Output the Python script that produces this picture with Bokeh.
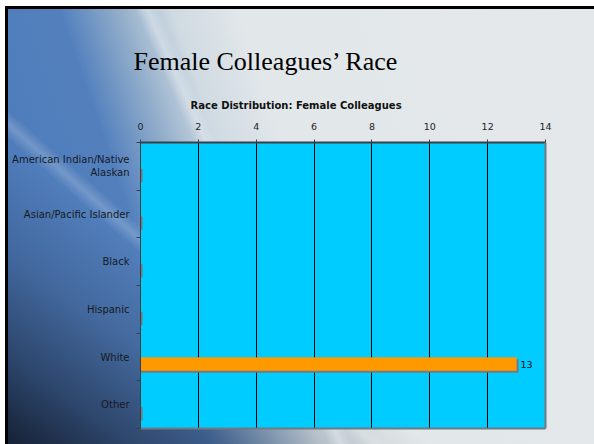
from bokeh.plotting import figure
from bokeh.models import Range1d, FixedTicker, LinearAxis, ColumnDataSource, Title
from bokeh.transform import dodge
from bokeh.embed import file_html
from bokeh.resources import INLINE
from bokeh.core.properties import value

# ---- data ----
slide_title = "Female Colleagues\u2019 Race"
chart_title = "Race Distribution: Female Colleagues"
categories = ["American Indian/Native\nAlaskan", "Asian/Pacific Islander", "Black",
              "Hispanic", "White", "Other"]
counts = [0, 0, 0, 0, 13, 0]
x_ticks = [0, 2, 4, 6, 8, 10, 12, 14]
x_max = 14

n = len(categories)
ypos = [n - 0.5 - i for i in range(n)]          # top category first
boundaries = list(range(n + 1))

bar_off = -0.147
bar_h = 0.28

src = ColumnDataSource(dict(y=ypos, count=counts, cat=categories))
nz = [i for i, c in enumerate(counts) if c > 0]
lab_src = ColumnDataSource(dict(y=[ypos[i] for i in nz], count=[counts[i] for i in nz],
                                label=[str(counts[i]) for i in nz]))

p = figure(frame_width=405, frame_height=286,
           min_border_left=140, min_border_right=49, min_border_top=142, min_border_bottom=16,
           x_range=Range1d(0, x_max), y_range=Range1d(0, n),
           x_axis_location="above", output_backend="svg", toolbar_location=None)
p.title.visible = False

p.background_fill_color = "#00CCFF"
p.border_fill_color = None
p.outline_line_color = None
p.styles = {
    "background": (
        "linear-gradient(66deg, rgba(255,255,255,0) 41.5%, rgba(255,255,255,0.33) 43%, rgba(255,255,255,0) 44.5%), "
        "linear-gradient(41deg, rgba(255,255,255,0) 32.5%, rgba(255,255,255,0.2) 34%, rgba(255,255,255,0) 35.5%), "
        "linear-gradient(35deg, rgba(14,19,32,0.88) 0%, rgba(14,19,32,0.5) 11%, rgba(14,19,32,0.18) 23%, rgba(14,19,32,0) 35%), "
        "linear-gradient(71deg, #4a78b8 0%, #5380bd 28%, #93aecb 36%, #cfdae2 43%, #e2e7ea 52%, #e4e8ea 100%)"
    ),
    "box-shadow": "inset 5px 6px 0 0 #ffffff, inset 8px 9px 0 0 #000000",
}

# grid
p.xgrid.ticker = FixedTicker(ticks=x_ticks)
p.xgrid.grid_line_color = "black"
p.xgrid.grid_line_width = 1
p.ygrid.visible = False

# top axis
xa = p.xaxis[0]
xa.ticker = FixedTicker(ticks=x_ticks)
xa.axis_line_color = "#3a3f44"
xa.axis_line_width = 2
xa.major_tick_line_color = "#3a3f44"
xa.major_tick_out = 3
xa.major_tick_in = 0
xa.minor_tick_line_color = None
xa.major_label_standoff = 10
xa.major_label_text_font = "DejaVu Sans"
xa.major_label_text_font_size = "9.5px"
xa.major_label_text_color = "#222222"

# left axis
ya = p.yaxis[0]
ya.ticker = FixedTicker(ticks=ypos, minor_ticks=boundaries)
ya.major_label_overrides = {y: c for y, c in zip(ypos, categories)}
ya.axis_line_color = "#3a3f44"
ya.axis_line_width = 1
ya.major_tick_line_color = None
ya.major_tick_out = 0
ya.major_tick_in = 0
ya.minor_tick_line_color = "#3a3f44"
ya.minor_tick_out = 4
ya.minor_tick_in = 0
ya.major_label_standoff = 7
ya.major_label_text_font = "DejaVu Sans"
ya.major_label_text_font_size = "10px"
ya.major_label_text_color = "#151a26"

# shadow axes on right and bottom
for loc in ("right", "below"):
    ax = LinearAxis(ticker=FixedTicker(ticks=[]), axis_line_color="#6f7b82", axis_line_width=2,
                    major_tick_line_color=None, minor_tick_line_color=None,
                    major_label_text_font_size="0px")
    p.add_layout(ax, loc)

# bar shadow + bar
p.hbar(y=dodge("y", bar_off - 0.045), left=0, right=dodge("count", 0.07), height=bar_h,
       source=src, fill_color="#6f7b82", line_color=None)
p.hbar(y=dodge("y", bar_off), left=0, right="count", height=bar_h, source=src,
       fill_color="#FF9900", line_color=None)
p.text(x="count", y=dodge("y", bar_off), text="label", source=lab_src, x_offset=4,
       text_baseline="middle", text_align="left", text_font=value("DejaVu Sans"),
       text_font_size="9.5px", text_color="#111111")

# titles (first added sits closest to the plot)
p.add_layout(Title(text=chart_title, align="left", offset=50, text_font="DejaVu Sans",
                   text_font_style="bold", text_font_size="10px", text_color="#111111",
                   standoff=18), "above")
p.add_layout(Title(text=slide_title, align="left", offset=-7, text_font="Liberation Serif",
                   text_font_style="normal", text_font_size="26px", text_color="#000000",
                   standoff=25), "above")

open("out.html", "w").write(file_html(p, INLINE))
